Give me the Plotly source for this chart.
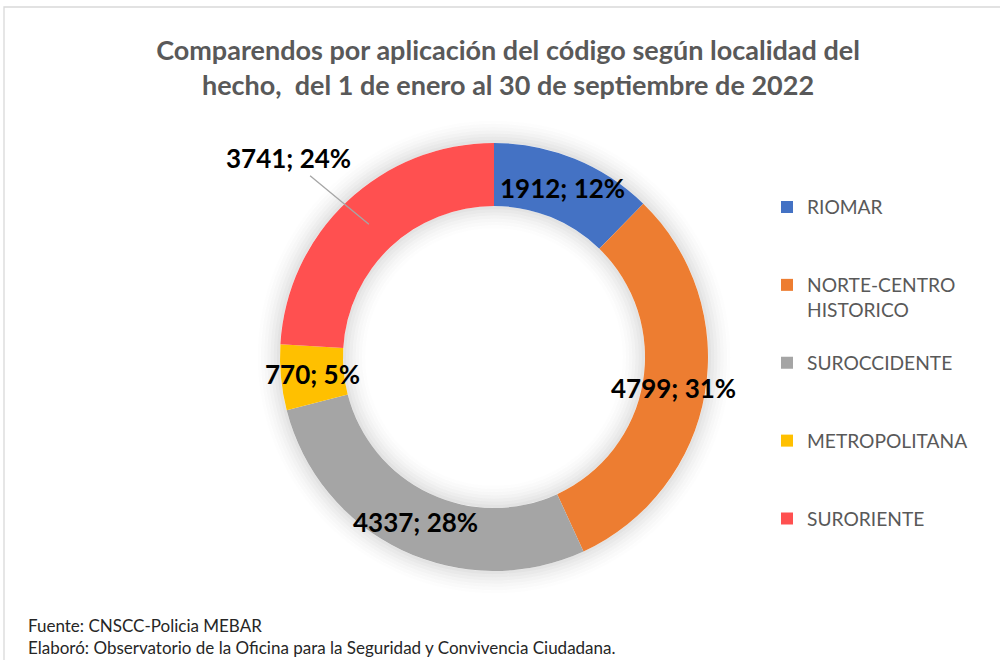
import math
import plotly.graph_objects as go

# localidades y comparendos (1 ene - 30 sep 2022)
localidades = ['RIOMAR', 'NORTE-CENTRO<br>HISTORICO', 'SUROCCIDENTE', 'METROPOLITANA', 'SURORIENTE']
comparendos = [1912, 4799, 4337, 770, 3741]
colores = ['#4472C4', '#ED7D31', '#A5A5A5', '#FFC000', '#FF5050']

titulo = ('Comparendos por aplicación del código según localidad del<br>'
          'hecho,  del 1 de enero al 30 de septiembre de 2022')
nota = ('Fuente: CNSCC-Policia MEBAR<br>'
        'Elaboró: Observatorio de la Oficina para la Seguridad y Convivencia Ciudadana.')

W, H = 1000, 660
cx, cy, r_out, r_in = 494, 357, 214, 151


def ring_domain(r):
    return dict(x=[(cx - r) / W, (cx + r) / W],
                y=[1 - (cy + r) / H, 1 - (cy - r) / H])


fig = go.Figure()

# soft shadow around the ring (Excel glow), drawn as thin grey bands
n_bands, step = 8, 3.2
for k in range(n_bands):
    a = 0.12 * (1 - (k + 0.5) / n_bands) ** 1.6
    for r_a, r_b in [(r_out + k * step, r_out + (k + 1) * step),
                     (r_in - (k + 1) * step, r_in - k * step)]:
        fig.add_trace(go.Pie(values=[1], marker=dict(colors=['rgba(0,0,0,%.3f)' % a],
                                                      line=dict(width=0)),
                             hole=r_a / r_b, domain=ring_domain(r_b), sort=False,
                             textinfo='none', hoverinfo='skip', showlegend=False))

# pad legend entries to three lines so the spacing matches
legend_labels = []
for lab in localidades:
    n = lab.count('<br>') + 1
    legend_labels.append(lab + '<br> ' * (3 - n))

fig.add_trace(go.Pie(
    labels=legend_labels,
    values=comparendos,
    marker=dict(colors=colores, line=dict(width=0)),
    hole=r_in / r_out,
    sort=False,
    direction='clockwise',
    rotation=0,
    textinfo='none',
    hoverinfo='label+value+percent',
    domain=ring_domain(r_out),
))

# data labels at the middle of the ring, computed from the values
total = sum(comparendos)
acum = 0
r_mid = (r_out + r_in) / 2
for i, v in enumerate(comparendos):
    ang = 2 * math.pi * (acum + v / 2) / total
    acum += v
    px_ = cx + r_mid * math.sin(ang)
    py_ = cy - r_mid * math.cos(ang)
    texto = '<b>%d; %d%%</b>' % (v, round(100 * v / total))
    if i == len(comparendos) - 1:
        fig.add_annotation(x=px_ / W, y=1 - py_ / H, xref='paper', yref='paper',
                           text=texto, showarrow=True, arrowhead=0, arrowwidth=1.3,
                           arrowcolor='#A6A6A6', ax=-80, ay=-66, standoff=0,
                           font=dict(size=26, color='black', family='Lato'))
    else:
        fig.add_annotation(x=px_ / W, y=1 - py_ / H, xref='paper', yref='paper',
                           xanchor='center', yanchor='middle',
                           text=texto, showarrow=False,
                           font=dict(size=26, color='black', family='Lato'))

fig.add_annotation(x=26 / W, y=1 - 613 / H, xref='paper', yref='paper',
                   xanchor='left', yanchor='top', align='left', showarrow=False,
                   text=nota, font=dict(size=17, color='#262626', family='Lato'))

fig.add_shape(type='rect', xref='paper', yref='paper',
              x0=4 / W, x1=1.02, y0=-0.02, y1=1 - 7 / H,
              line=dict(color='#D9D9D9', width=1.3))

fig.update_layout(
    width=W, height=H,
    margin=dict(l=0, r=0, t=0, b=0),
    paper_bgcolor='white',
    plot_bgcolor='white',
    title=dict(text='<b>' + titulo + '</b>', x=0.508, xanchor='center',
               y=1 - 60 / H, yanchor='top',
               font=dict(size=27, color='#595959', family='Lato')),
    legend=dict(x=767 / W, xanchor='left', y=1 - 188 / H, yanchor='top',
                valign='top', font=dict(size=19.2, color='#595959', family='Lato'),
                itemwidth=30, tracegroupgap=0),
    showlegend=True,
)

fig.write_html('out.html', config={'displayModeBar': False},
               post_script="document.body.style.margin='0';")
